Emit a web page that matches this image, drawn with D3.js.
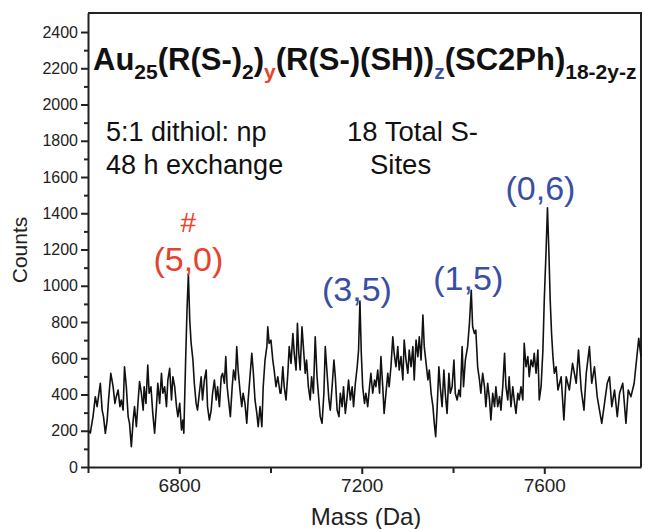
<!DOCTYPE html>
<html>
<head>
<meta charset="utf-8">
<script src="https://cdn.jsdelivr.net/npm/d3@7"></script>
<style>
  body { margin: 0; background: #fff; }
  svg { font-family: "Liberation Sans", Arial, sans-serif; }
  .axis path, .axis line { stroke: #222; stroke-width: 2; }
  .axis text { font-size: 16px; fill: #222; }
  .trace { fill: none; stroke: #111; stroke-width: 1.6; stroke-linejoin: round; }
</style>
</head>
<body>
<svg width="645" height="529"></svg>
<script>
// Mass (Da) and counts
const mass = [
  6602, 6605, 6611, 6616, 6620, 6624, 6627, 6631, 6634, 6638, 6642, 6645, 6650, 6655, 6659, 6662,
  6666, 6670, 6673, 6677, 6680, 6684, 6688, 6691, 6695, 6699, 6702, 6706, 6710, 6713, 6717, 6721,
  6723, 6727, 6731, 6734, 6738, 6742, 6746, 6750, 6753, 6757, 6761, 6764, 6768, 6772, 6775, 6779,
  6783, 6786, 6790, 6794, 6797, 6801, 6805, 6808, 6810, 6814, 6817, 6820, 6823, 6826, 6830, 6833,
  6837, 6840, 6844, 6848, 6851, 6855, 6859, 6862, 6866, 6870, 6873, 6877, 6881, 6884, 6888, 6892,
  6895, 6899, 6902, 6905, 6908, 6912, 6916, 6919, 6923, 6926, 6929, 6933, 6937, 6940, 6944, 6948,
  6951, 6955, 6959, 6962, 6966, 6970, 6973, 6977, 6981, 6984, 6988, 6992, 6994, 6997, 7001, 7005,
  7008, 7012, 7016, 7021, 7023, 7027, 7030, 7034, 7038, 7041, 7045, 7049, 7052, 7056, 7059, 7062,
  7065, 7069, 7072, 7076, 7079, 7083, 7087, 7090, 7094, 7098, 7102, 7106, 7109, 7113, 7117, 7120,
  7124, 7128, 7131, 7135, 7139, 7142, 7146, 7150, 7153, 7157, 7160, 7164, 7168, 7171, 7175, 7179,
  7182, 7186, 7190, 7193, 7196, 7199, 7202, 7206, 7209, 7213, 7217, 7220, 7224, 7228, 7231, 7235,
  7239, 7242, 7246, 7249, 7253, 7257, 7260, 7264, 7268, 7271, 7275, 7279, 7282, 7286, 7290, 7293,
  7297, 7301, 7304, 7308, 7312, 7315, 7319, 7323, 7326, 7330, 7334, 7337, 7341, 7345, 7348, 7352,
  7356, 7359, 7362, 7365, 7369, 7372, 7376, 7380, 7383, 7387, 7391, 7394, 7398, 7402, 7405, 7409,
  7413, 7416, 7420, 7423, 7427, 7432, 7436, 7440, 7443, 7447, 7450, 7454, 7458, 7461, 7465, 7469,
  7472, 7476, 7480, 7483, 7487, 7491, 7494, 7498, 7502, 7505, 7509, 7513, 7516, 7520, 7523, 7527,
  7531, 7534, 7538, 7542, 7545, 7549, 7553, 7556, 7560, 7564, 7567, 7571, 7575, 7578, 7582, 7586,
  7589, 7593, 7597, 7600, 7604, 7607, 7610, 7613, 7616, 7619, 7622, 7626, 7630, 7637, 7643, 7648,
  7655, 7662, 7670, 7675, 7681, 7687, 7692, 7699, 7704, 7710, 7716, 7721, 7726, 7732, 7738, 7743,
  7748, 7754, 7760, 7765, 7772, 7779, 7784, 7790, 7797, 7807, 7812
];
const counts = [
  200, 187, 278, 388, 333, 407, 462, 314, 278, 186, 259, 370, 517, 443, 351, 388,
  425, 333, 370, 314, 553, 443, 278, 241, 112, 259, 333, 222, 370, 471, 407, 314,
  443, 351, 563, 407, 443, 296, 186, 333, 462, 351, 517, 407, 443, 333, 480, 544,
  370, 498, 443, 333, 278, 351, 204, 259, 186, 590, 866, 1065, 811, 684, 590, 462,
  351, 314, 407, 498, 370, 480, 535, 333, 259, 314, 407, 480, 370, 443, 333, 498,
  517, 462, 609, 443, 370, 278, 443, 535, 480, 664, 535, 425, 333, 407, 351, 241,
  370, 498, 627, 535, 370, 296, 222, 333, 222, 443, 590, 664, 774, 682, 700, 590,
  535, 443, 498, 407, 407, 553, 443, 370, 517, 664, 572, 737, 627, 535, 793, 627,
  535, 774, 664, 517, 590, 443, 370, 498, 407, 719, 498, 370, 278, 241, 407, 664,
  517, 370, 314, 443, 590, 498, 314, 278, 407, 333, 443, 296, 388, 480, 370, 443,
  333, 462, 553, 645, 915, 627, 443, 351, 407, 333, 443, 517, 407, 480, 443, 535,
  407, 609, 443, 296, 407, 517, 443, 553, 719, 627, 553, 664, 535, 609, 480, 700,
  590, 517, 645, 553, 664, 480, 700, 609, 719, 590, 839, 664, 572, 480, 535, 407,
  333, 241, 167, 314, 553, 443, 333, 535, 407, 296, 517, 407, 443, 590, 407, 370,
  425, 388, 664, 443, 590, 664, 793, 975, 774, 737, 755, 553, 480, 407, 517, 443,
  333, 462, 370, 259, 407, 333, 443, 333, 388, 314, 443, 627, 443, 370, 498, 333,
  443, 370, 296, 407, 370, 443, 370, 682, 553, 609, 498, 590, 553, 627, 517, 645,
  370, 443, 645, 921, 1197, 1430, 1197, 921, 737, 609, 517, 553, 425, 498, 259, 498,
  425, 572, 462, 645, 425, 314, 517, 664, 462, 553, 388, 314, 241, 351, 462, 498,
  333, 425, 278, 407, 462, 241, 425, 388, 462, 710, 609
];

const yMajor = d3.range(0, 2401, 200);
const yMinor = d3.range(100, 2500, 200);
const xMajor = [6800, 7200, 7600];
const xMinor = [6600, 7000, 7400];

const peakLabels = [
  { text: "(5,0)", mass: 6820, counts: 1065, color: "red" },
  { text: "(3,5)", mass: 7196, counts: 915, color: "blue" },
  { text: "(1,5)", mass: 7440, counts: 975, color: "blue" },
  { text: "(0,6)", mass: 7607, counts: 1430, color: "blue" }
];
// label placement relative to the peak top (px)
const labelShift = [[0, -3], [-3, 0], [-3, 0], [-7, -8]];

const RED = "#e5432b", BLUE = "#3a4ea3";

const svg = d3.select("svg");
const margin = {top: 13, right: 4, bottom: 62, left: 88};
const width = 645 - margin.left - margin.right;
const height = 529 - margin.top - margin.bottom;

const x = d3.scaleLinear().domain([6600, 7812]).range([0, width]);
const y = d3.scaleLinear().domain([0, 2505]).range([height, 0]);

const g = svg.append("g").attr("transform", `translate(${margin.left},${margin.top})`);

// frame (top and right)
g.append("path")
  .attr("d", `M0,0H${width}V${height}`)
  .attr("fill", "none").attr("stroke", "#222").attr("stroke-width", 2);

// y axis
g.append("g").attr("class", "axis")
  .call(d3.axisLeft(y).tickValues(yMinor).tickSize(4).tickFormat(""))
  .select(".domain").remove();
g.append("g").attr("class", "axis")
  .call(d3.axisLeft(y).tickValues(yMajor).tickSize(7).tickPadding(3)
    .tickSizeOuter(0).tickFormat(d3.format("d")));

// x axis
g.append("g").attr("class", "axis").attr("transform", `translate(0,${height})`)
  .call(d3.axisBottom(x).tickValues(xMinor).tickSize(6).tickFormat(""))
  .select(".domain").remove();
g.append("g").attr("class", "axis").attr("transform", `translate(0,${height})`)
  .call(d3.axisBottom(x).tickValues(xMajor).tickSize(7).tickPadding(5)
    .tickSizeOuter(0).tickFormat(d3.format("d")))
  .selectAll("text").style("font-size", "19px");

// spectrum trace
const line = d3.line().x((d, i) => x(mass[i])).y(d => y(d));
g.append("path").attr("class", "trace").attr("d", line(counts));

// axis titles
svg.append("text")
  .attr("transform", "translate(27,250) rotate(-90)")
  .attr("text-anchor", "middle")
  .style("font-size", "21px").attr("fill", "#222")
  .text("Counts");
svg.append("text")
  .attr("x", 366).attr("y", 525)
  .attr("text-anchor", "middle")
  .style("font-size", "24px").attr("fill", "#222")
  .text("Mass (Da)");

// formula title
const title = svg.append("text")
  .attr("x", 93).attr("y", 70)
  .style("font-weight", "bold").style("font-size", "31px").attr("fill", "#111");
const parts = [
  ["Au", 0, null], ["25", 1, null], ["(R(S-)", 0, null], ["2", 1, null], [")", 0, null],
  ["y", 1, RED], ["(R(S-)(SH))", 0, null], ["z", 1, BLUE], ["(SC2Ph)", 0, null], ["18-2y-z", 1, null]
];
let sub = false;
parts.forEach(([t, s, c]) => {
  const ts = title.append("tspan").text(t);
  if (s && !sub) ts.attr("dy", 9);
  if (!s && sub) ts.attr("dy", -9);
  if (s) ts.style("font-size", "21px");
  if (c) ts.attr("fill", c);
  sub = !!s;
});

// annotations
const notes = [
  { text: "5:1 dithiol: np", x: 106, y: 141 },
  { text: "48 h exchange", x: 106, y: 174 },
  { text: "18 Total S-", x: 347, y: 141 },
  { text: "Sites", x: 370, y: 174 }
];
svg.selectAll(".note").data(notes).enter().append("text")
  .attr("class", "note")
  .attr("x", d => d.x).attr("y", d => d.y)
  .style("font-size", d => d.x > 300 ? "27.5px" : "27px").attr("fill", "#111")
  .text(d => d.text);

// peak labels
g.selectAll(".peak").data(peakLabels).enter().append("text")
  .attr("class", "peak")
  .attr("x", (d, i) => x(d.mass) + labelShift[i][0])
  .attr("y", (d, i) => y(d.counts) + labelShift[i][1])
  .attr("text-anchor", "middle")
  .style("font-size", "34px")
  .attr("fill", d => d.color === "red" ? RED : BLUE)
  .text(d => d.text);
g.append("text")
  .attr("x", x(6820)).attr("y", y(1065) - 42)
  .attr("text-anchor", "middle")
  .style("font-size", "28px").attr("fill", RED)
  .text("#");
</script>
</body>
</html>
